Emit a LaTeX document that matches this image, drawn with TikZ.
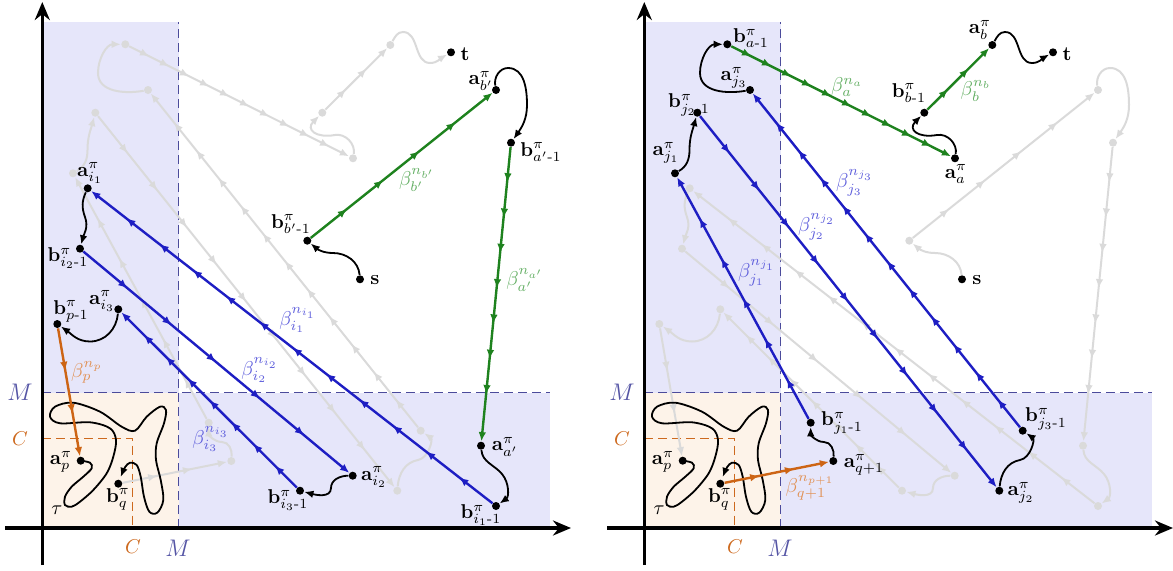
\documentclass[tikz,border=0pt]{standalone}
\usepackage{amsmath}
\usetikzlibrary{arrows.meta,decorations.markings}
\definecolor{shadeB}{RGB}{230,230,250}
\definecolor{shadeO}{RGB}{253,243,233}
\definecolor{dashB}{RGB}{75,75,155}
\definecolor{labM}{RGB}{85,85,165}
\definecolor{orC}{RGB}{205,105,30}
\definecolor{grayP}{RGB}{218,218,218}
\definecolor{blueL}{RGB}{30,30,195}
\definecolor{greenL}{RGB}{30,130,30}
\definecolor{orangeL}{RGB}{205,100,20}
\definecolor{blueT}{RGB}{95,95,220}
\definecolor{greenT}{RGB}{100,175,100}
\definecolor{orangeT}{RGB}{225,145,85}
\tikzset{
 pt/.style={circle,fill=black,inner sep=0pt,minimum size=4pt},
 mk/.style={postaction={decorate},decoration={markings,mark=between positions #1 and 0.95 step #1 with {\arrow{Latex[length=4.6pt,width=3.8pt]}}}},
 seg/.style={line width=1.2pt,-{Latex[length=4.6pt,width=3.8pt]}},
 gseg/.style={seg,greenL}, bseg/.style={seg,blueL}, oseg/.style={seg,orangeL},
 crv/.style={line width=0.9pt,black,-{Latex[length=4.6pt,width=3.8pt]}},
 lab/.style={inner sep=0pt},
 ghost/.style={
   pt/.style={circle,fill=grayP,inner sep=0pt,minimum size=4pt},
   gseg/.style={seg,grayP,line width=1pt},
   bseg/.style={seg,grayP,line width=1pt},
   oseg/.style={seg,grayP,line width=1pt},
   crv/.style={line width=1pt,grayP,-{Latex[length=4.6pt,width=3.8pt]}}},
 mdash/.style={dashB,line width=0.7pt,dash pattern=on 4.5pt off 2.5pt},
 cdash/.style={orC,line width=0.7pt,dash pattern=on 4.5pt off 2.5pt},
 axis/.style={line width=1.6pt,-{Stealth[length=9pt,width=7.5pt]}},
}
\newcommand\panelbase[1]{%
 \fill[shadeB] (42,42) rectangle (178.7,548);
 \fill[shadeB] (42,42) rectangle (549.7,177.3);
 \fill[shadeO] (42,42) rectangle (178.7,177.3);
 \draw[mdash] (178.7,42) -- (178.7,548);
 \draw[mdash] (42,177.3) -- (549.7,177.3);
 \draw[cdash] (42,131.7) -- (132.7,131.7) -- (132.7,42);
 \draw[axis] (5,42) -- (571,42);
 \draw[axis] (42.3,5) -- (42.3,568);
 \node[labM,font=\large] (#1M1) at (20,177.3) {$M$};
 \node[labM,font=\large] (#1M2) at (178,22) {$M$};
 \node[orC] (#1C1) at (20,131.7) {$C$};
 \node[orC] (#1C2) at (133,23) {$C$};
 \node[pt] (#1s) at (360,290.7) {};
 \node[pt] (#1t) at (451,517.7) {};
 \node[pt] (#1ap) at (80.7,109.3) {};
 \node[pt] (#1bq) at (118.3,86.3) {};
 \node[lab] (#1ls) at (375,290) {$\mathbf{s}$};
 \node[lab] (#1lt) at (465,516) {$\mathbf{t}$};
 \node[lab] (#1lap) at (61,108) {$\mathbf{a}^{\pi}_{p}$};
 \node[lab] (#1lbq) at (118,71) {$\mathbf{b}^{\pi}_{q}$};
 \node[lab] (#1ltau) at (57,60) {$\tau$};
}
\newcommand\taucurve{%
 \draw[crv] plot[smooth,tension=0.55] coordinates {(80.7,109.3) (90,107.3) (91.7,101.7) (83.3,93.3) (71.7,83.3) (65,73.3) (65,65) (71.7,63.3) (80,68.3) (93.3,80) (106.7,96.7) (113.3,113.3) (116,130) (110,141.7) (90,147.7) (60,146.7) (50,153.3) (55,163.3) (73.3,167.3) (100,158.3) (121.7,143.3) (135,139.3) (146.7,153.3) (160,163.3) (166,160) (164,146.7) (156.7,126.7) (156,110) (160.7,90) (163.3,70) (157.3,57.3) (149.3,58.3) (144,73.3) (140.7,93.3) (136.7,105) (130,107.3) (125,102.7) (120.7,93)};
}
\newcommand\pathLeft[2]{%
 \node[pt] (#2B1) at (307.3,329.3) {};
 \node[pt] (#2A1) at (496,480) {};
 \node[pt] (#2B2) at (511,427.3) {};
 \node[pt] (#2A2) at (481,124.3) {};
 \node[pt] (#2B3) at (496,64) {};
 \node[pt] (#2A3) at (87.7,381.7) {};
 \node[pt] (#2B4) at (80,321.3) {};
 \node[pt] (#2A4) at (352.7,94.3) {};
 \node[pt] (#2B5) at (300,79.3) {};
 \node[pt] (#2A5) at (118.3,260.7) {};
 \node[pt] (#2B6) at (57.3,246) {};
 \draw[crv] (#1s) to[out=95,in=0] (333,317) to[out=180,in=-40] (#2B1);
 \draw[gseg,mk=0.2] (#2B1) -- (#2A1);
 \draw[crv] (#2A1) to[out=100,in=180] (508,502) to[out=0,in=90] (527,465) to[out=-90,in=55] (#2B2);
 \draw[gseg,mk=0.12] (#2B2) -- (#2A2);
 \draw[crv] (#2A2) to[out=-85,in=130] (502,96) to[out=-50,in=35] (#2B3);
 \draw[bseg,mk=0.083] (#2B3) -- (#2A3);
 \draw[crv] (#2A3) to[out=-115,in=110] (85,353) to[out=-70,in=75] (#2B4);
 \draw[bseg,mk=0.166] (#2B4) -- (#2A4);
 \draw[crv] (#2A4) to[out=180,in=90] (331,82) to[out=-90,in=-15] (#2B5);
 \draw[bseg,mk=0.125] (#2B5) -- (#2A5);
 \draw[crv] (#2A5) to[out=-95,in=0] (90,228.5) to[out=180,in=-35] (#2B6);
 \draw[oseg,mk=0.333] (#2B6) -- (#1ap);
}
\newcommand\pathRight[2]{%
 \node[pt] (#2C1) at (231.3,109) {};
 \node[pt] (#2D1) at (208.7,147.3) {};
 \node[pt] (#2C2) at (73,396.7) {};
 \node[pt] (#2D2) at (95.3,457.3) {};
 \node[pt] (#2C3) at (397.3,79.3) {};
 \node[pt] (#2D3) at (420.7,139.3) {};
 \node[pt] (#2C4) at (148,480) {};
 \node[pt] (#2D4) at (125.3,525.7) {};
 \node[pt] (#2C5) at (353,411.7) {};
 \node[pt] (#2D5) at (322.3,457.3) {};
 \node[pt] (#2C6) at (390.3,525) {};
 \draw[oseg,mk=0.333] (#1bq) -- (#2C1);
 \draw[crv] (#2C1) to[out=85,in=0] (222,128) to[out=180,in=-90] (#2D1);
 \draw[bseg,mk=0.166] (#2D1) -- (#2C2);
 \draw[crv] (#2C2) to[out=30,in=-90] (87.5,420) to[out=90,in=-105] (#2D2);
 \draw[bseg,mk=0.1] (#2D2) -- (#2C3);
 \draw[crv] (#2C3) to[out=85,in=190] (418,110) to[out=10,in=-35] (#2D3);
 \draw[bseg,mk=0.083] (#2D3) -- (#2C4);
 \draw[crv] (#2C4) to[out=190,in=-90] (98,497) to[out=90,in=180] (#2D4);
 \draw[gseg,mk=0.091] (#2D4) -- (#2C5);
 \draw[crv] (#2C5) to[out=80,in=10] (335,435) to[out=190,in=-135,looseness=2] (#2D5);
 \draw[gseg,mk=0.333] (#2D5) -- (#2C6);
 \draw[crv] (#2C6) to[out=60,in=180] (403,538) to[out=0,in=180] (430,507) to[out=0,in=-150] (#1t);
}
\begin{document}
\begin{tikzpicture}[x=0.5pt,y=0.5pt]
\useasboundingbox (0,0) rectangle (1173,570);
% ---------------- left panel
\begin{scope}
 \panelbase{L}
 \begin{scope}[ghost]\pathRight{L}{LG}\end{scope}
 \taucurve
 \pathLeft{L}{LC}
 \node[lab] (l1) at (291,346) {$\mathbf{b}^{\pi}_{b'\text{-}1}$};
 \node[lab] (l2) at (481,489) {$\mathbf{a}^{\pi}_{b'}$};
 \node[lab] (l3) at (541,418) {$\mathbf{b}^{\pi}_{a'\text{-}1}$};
 \node[lab,greenT] (l4) at (417,390) {$\beta^{n_{b'}}_{b'}$};
 \node[lab,greenT] (l5) at (525,290) {$\beta^{n_{a'}}_{a'}$};
 \node[lab] (l6) at (505,123) {$\mathbf{a}^{\pi}_{a'}$};
 \node[lab] (l7) at (481,55) {$\mathbf{b}^{\pi}_{i_1\text{-}1}$};
 \node[lab] (l8) at (374,93) {$\mathbf{a}^{\pi}_{i_2}$};
 \node[lab] (l9) at (288,70) {$\mathbf{b}^{\pi}_{i_3\text{-}1}$};
 \node[lab,blueT] (l10) at (298,250) {$\beta^{n_{i_1}}_{i_1}$};
 \node[lab,blueT] (l11) at (260,200) {$\beta^{n_{i_2}}_{i_2}$};
 \node[lab,blueT] (l12) at (211,131) {$\beta^{n_{i_3}}_{i_3}$};
 \node[lab] (l13) at (90,397) {$\mathbf{a}^{\pi}_{i_1}$};
 \node[lab] (l14) at (68,312) {$\mathbf{b}^{\pi}_{i_2\text{-}1}$};
 \node[lab] (l15) at (102,269) {$\mathbf{a}^{\pi}_{i_3}$};
 \node[lab] (l16) at (71,259) {$\mathbf{b}^{\pi}_{p\text{-}1}$};
 \node[lab,orangeT] (l17) at (87,198) {$\beta^{n_p}_{p}$};
\end{scope}
% ---------------- right panel
\begin{scope}[shift={(602,0)}]
 \panelbase{R}
 \begin{scope}[ghost]\pathLeft{R}{RG}\end{scope}
 \taucurve
 \pathRight{R}{RC}
 \node[lab] (r1) at (149,532) {$\mathbf{b}^{\pi}_{a\text{-}1}$};
 \node[lab] (r2) at (132,492) {$\mathbf{a}^{\pi}_{j_3}$};
 \node[lab] (r3) at (87,465) {$\mathbf{b}^{\pi}_{j_2\text{-}1}$};
 \node[lab] (r4) at (64,417) {$\mathbf{a}^{\pi}_{j_1}$};
 \node[lab,greenT] (r5) at (245,483) {$\beta^{n_a}_{a}$};
 \node[lab,blueT] (r6) at (253,387) {$\beta^{n_{j_3}}_{j_3}$};
 \node[lab,blueT] (r7) at (215,343) {$\beta^{n_{j_2}}_{j_2}$};
 \node[lab,blueT] (r8) at (155,297) {$\beta^{n_{j_1}}_{j_1}$};
 \node[lab] (r9) at (307,477) {$\mathbf{b}^{\pi}_{b\text{-}1}$};
 \node[lab,greenT] (r10) at (374,479) {$\beta^{n_b}_{b}$};
 \node[lab] (r11) at (378,540) {$\mathbf{a}^{\pi}_{b}$};
 \node[lab] (r12) at (354,396) {$\mathbf{a}^{\pi}_{a}$};
 \node[lab] (r13) at (240,147) {$\mathbf{b}^{\pi}_{j_1\text{-}1}$};
 \node[lab] (r14) at (262,105) {$\mathbf{a}^{\pi}_{q+1}$};
 \node[lab,orangeT] (r15) at (208,82) {$\beta^{n_{p+1}}_{q+1}$};
 \node[lab] (r16) at (444,151) {$\mathbf{b}^{\pi}_{j_3\text{-}1}$};
 \node[lab] (r17) at (419,77) {$\mathbf{a}^{\pi}_{j_2}$};
\end{scope}
\end{tikzpicture}
\end{document}
